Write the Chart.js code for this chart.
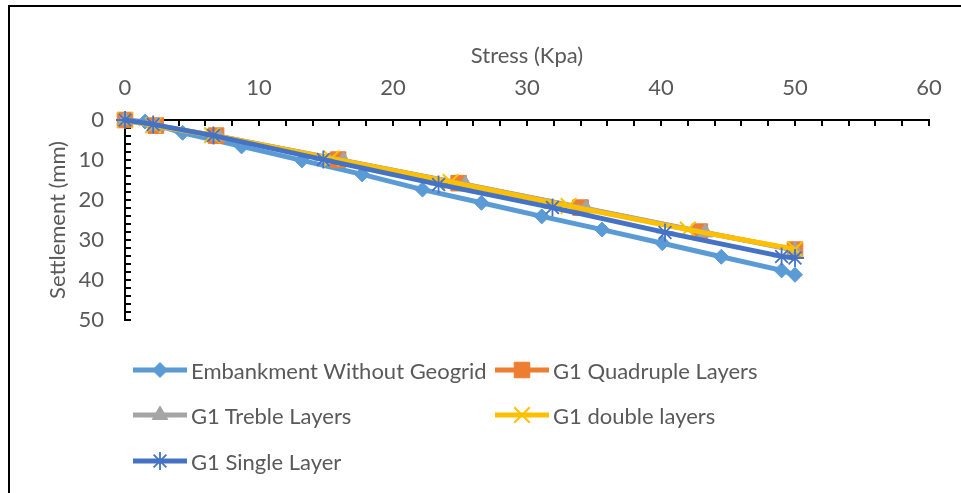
<!DOCTYPE html>
<html><head><meta charset="utf-8">
<script src="https://cdn.jsdelivr.net/npm/chart.js@4.4.1/dist/chart.umd.min.js"></script>
<style>
html,body{margin:0;padding:0;background:#fff;overflow:hidden;width:961px;height:493px;}
#frame{position:absolute;left:8px;top:5px;width:1100px;height:700px;border:2px solid #000;box-sizing:border-box;}
#wrap{position:absolute;left:0;top:0;width:961px;height:493px;}
.leg{position:absolute;display:flex;align-items:center;font-family:Lato,sans-serif;font-size:22px;color:#595959;white-space:nowrap;height:24px;}
.leg canvas{margin-right:4px;display:block;}
</style></head><body>
<div id="frame"></div>
<div id="wrap"><canvas id="c" width="961" height="493"></canvas></div>
<div id="legend"></div>
<script>
// ---- data ----
const seriesNames = ["Embankment Without Geogrid", "G1 Quadruple Layers", "G1 Treble Layers", "G1 double layers", "G1 Single Layer"];

const embStress  = [0, 1.5, 4.3, 8.7, 13.2, 17.7, 22.2, 26.6, 31.1, 35.6, 40.1, 44.5, 49.0, 50.0];
const embSettle  = [0, 0.4, 3.2, 6.6, 10.1, 13.6, 17.4, 20.7, 24.1, 27.4, 30.8, 34.2, 37.6, 38.7];

const quadStress = [0, 2.3, 6.8, 15.9, 24.9, 34.0, 42.9, 50.0];
const quadSettle = [0, 1.4, 3.9, 9.9, 15.8, 21.9, 27.9, 32.4];

const trebStress = [0, 2.4, 7.0, 16.3, 25.4, 34.4, 43.3, 50.0];
const trebSettle = [0, 1.5, 4.1, 10.1, 16.1, 22.1, 28.1, 32.6];

const dblStress  = [0, 2.1, 6.5, 15.4, 24.3, 33.1, 42.0, 50.0];
const dblSettle  = [0, 1.3, 3.8, 9.6, 15.5, 21.5, 27.4, 32.3];

const singStress = [0, 2.1, 6.6, 14.8, 23.4, 31.9, 40.3, 49.0, 50.0];
const singSettle = [0, 1.1, 3.9, 9.9, 16.1, 21.9, 28.1, 34.1, 34.5];

const xTickLabels = [0, 10, 20, 30, 40, 50, 60];
const yTickLabels = [0, 10, 20, 30, 40, 50];

// ---- styles ----
const styles = [
  {color:'#5B9BD5', pointStyle:'rectRot', radius:7.5, bw:1},
  {color:'#ED7D31', pointStyle:'rect', radius:11, bw:1},
  {color:'#A5A5A5', pointStyle:'triangle', radius:9, bw:1},
  {color:'#FFC000', pointStyle:'crossRot', radius:11, bw:2},
  {color:'#4472C4', pointStyle:'star', radius:9, bw:1.8}
];
const stressArr = [embStress, quadStress, trebStress, dblStress, singStress];
const settleArr = [embSettle, quadSettle, trebSettle, dblSettle, singSettle];

const toPts = (xs, ys) => xs.map((v, i) => ({x: v, y: ys[i]}));

const datasets = seriesNames.map((name, i) => ({
  label: name,
  data: toPts(stressArr[i], settleArr[i]),
  showLine: true,
  borderColor: styles[i].color,
  backgroundColor: styles[i].color,
  borderWidth: 5,
  pointStyle: styles[i].pointStyle,
  pointRadius: styles[i].radius,
  pointHoverRadius: styles[i].radius,
  pointBackgroundColor: styles[i].color,
  pointBorderColor: styles[i].color,
  pointBorderWidth: styles[i].bw,
  tension: 0,
  clip: false,
  order: seriesNames.length - 1 - i
}));

const insideTicks = {
  id: 'insideTicks',
  beforeDatasetsDraw(chart) {
    const {ctx, chartArea: a, scales: {x, y}} = chart;
    ctx.save();
    ctx.strokeStyle = '#000';
    ctx.lineWidth = 2;
    ctx.beginPath();
    x.ticks.forEach(t => { const px = Math.round(x.getPixelForValue(t.value)); ctx.moveTo(px, a.top); ctx.lineTo(px, a.top + 6); });
    y.ticks.forEach(t => { const py = Math.round(y.getPixelForValue(t.value)); ctx.moveTo(a.left, py); ctx.lineTo(a.left + 6, py); });
    ctx.stroke();
    ctx.restore();
  }
};

const L = 30, T = 20;
Chart.defaults.font.family = 'Lato, sans-serif';
Chart.defaults.font.size = 22;
Chart.defaults.color = '#595959';

new Chart(document.getElementById('c'), {
  type: 'scatter',
  data: {datasets},
  options: {
    responsive: false,
    animation: false,
    devicePixelRatio: 1,
    layout: {padding: {top: T, left: L, right: 32, bottom: 173}},
    plugins: {legend: {display: false}, tooltip: {enabled: false}},
    scales: {
      x: {
        type: 'linear', position: 'top', min: 0, max: 60,
        afterFit(s) { s.height = 120 - T; },
        ticks: {stepSize: 2, autoSkip: false, maxRotation: 0, padding: 19,
          callback: v => xTickLabels.includes(v) ? String(v) : ''},
        grid: {drawOnChartArea: false, drawTicks: false},
        border: {display: true, color: '#000', width: 2},
        title: {display: true, text: 'Stress (Kpa)', padding: {top: 23, bottom: 0}}
      },
      y: {
        type: 'linear', position: 'left', min: 0, max: 50, reverse: true,
        afterFit(s) { s.width = 125 - L; },
        ticks: {stepSize: 2, autoSkip: false, padding: 21,
          callback: v => yTickLabels.includes(v) ? String(v) : ''},
        grid: {drawOnChartArea: false, drawTicks: false},
        border: {display: true, color: '#000', width: 2},
        title: {display: true, text: 'Settlement (mm)', padding: {top: 15, bottom: 0}}
      }
    }
  },
  plugins: [insideTicks]
});

// ---- legend (HTML, two columns like the original) ----
const legPos = [[133, 370], [495, 370], [133, 415], [495, 415], [133, 461]];
const legendEl = document.getElementById('legend');
seriesNames.forEach((name, i) => {
  const d = document.createElement('div');
  d.className = 'leg';
  d.style.left = legPos[i][0] + 'px';
  d.style.top = (legPos[i][1] - 12) + 'px';
  const cv = document.createElement('canvas');
  cv.width = 54; cv.height = 24;
  const ctx = cv.getContext('2d');
  ctx.strokeStyle = styles[i].color;
  ctx.lineWidth = 5;
  ctx.beginPath(); ctx.moveTo(0, 12); ctx.lineTo(54, 12); ctx.stroke();
  ctx.fillStyle = styles[i].color;
  ctx.strokeStyle = styles[i].color;
  ctx.lineWidth = styles[i].bw;
  Chart.helpers.drawPoint(ctx, {pointStyle: styles[i].pointStyle, radius: styles[i].radius, borderWidth: styles[i].bw, rotation: 0}, 27, 12);
  d.appendChild(cv);
  const sp = document.createElement('span');
  sp.textContent = name;
  d.appendChild(sp);
  legendEl.appendChild(d);
});
</script>
</body></html>
